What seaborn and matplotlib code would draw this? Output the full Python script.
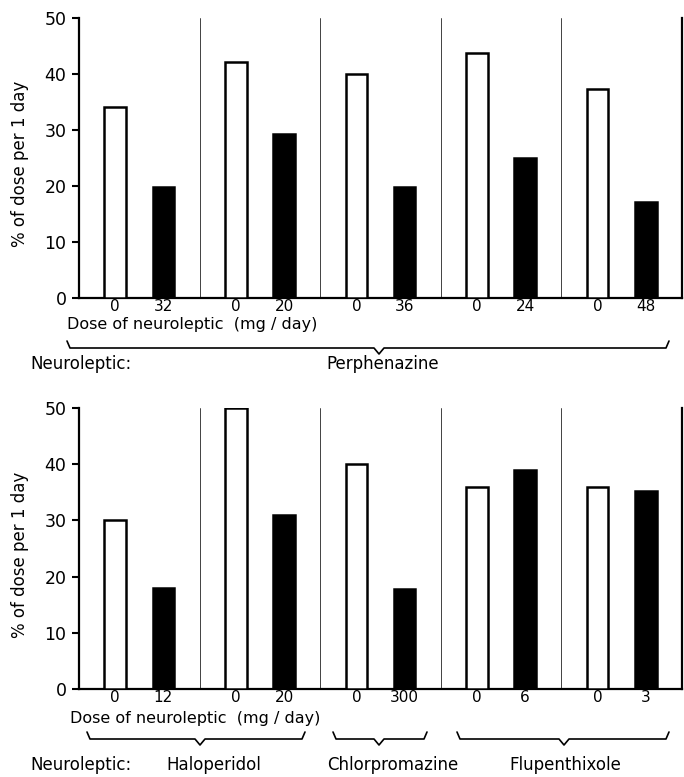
import pandas as pd
import matplotlib.pyplot as plt
import seaborn as sns
from matplotlib.lines import Line2D

# values (% of dose per 1 day)
top_doses = ['32', '20', '36', '24', '48']
top_control = [34.1, 42.2, 40.0, 43.8, 37.3]
top_treated = [19.8, 29.2, 19.8, 25.0, 17.1]

bottom_doses = ['12', '20', '300', '6', '3']
bottom_control = [30.0, 50.0, 40.0, 36.0, 36.0]
bottom_treated = [18.0, 31.0, 17.8, 39.0, 35.3]

top_drugs = ['Perphenazine']
bottom_drugs = ['Haloperidol', 'Chlorpromazine', 'Flupenthixole']

W, H = 684, 777
sns.set_style("ticks")
plt.rcParams['font.family'] = ['DejaVu Sans']
plt.rcParams.update({'text.color': 'black', 'xtick.color': 'black',
                     'ytick.color': 'black', 'axes.edgecolor': 'black'})

fig = plt.figure(figsize=(W / 100, H / 100), dpi=100)


def fx(x):
    return x / W


def fy(y):
    return 1 - y / H


def panel(top_px, bot_px, control, treated, doses):
    ax = fig.add_axes([fx(79), fy(bot_px), fx(682) - fx(79), (bot_px - top_px) / H])
    n = len(control)
    df = pd.DataFrame({
        'group': list(range(n)) * 2,
        'cond': ['control'] * n + ['treated'] * n,
        'value': control + treated,
    })
    sns.barplot(data=df, x='group', y='value', hue='cond',
                palette=['white', 'black'], edgecolor='black', linewidth=1.8,
                width=0.8, gap=0.55, legend=False, ax=ax, zorder=3)
    ax.set_xlim(-0.5, n - 0.5)
    ax.set_ylim(0, 50)
    ticks, labels = [], []
    for i, d in enumerate(doses):
        ticks += [i - 0.2, i + 0.2]
        labels += ['0', d]
    ax.set_xticks(ticks)
    ax.set_xticklabels(labels)
    ax.set_yticks(range(0, 51, 10))
    ax.tick_params(axis='x', length=0, pad=1, labelsize=11)
    ax.tick_params(axis='y', length=5, width=1.5, pad=4, labelsize=12.5)
    ax.set_xlabel('')
    ax.set_ylabel('')
    for s in ['left', 'bottom', 'right']:
        ax.spines[s].set_linewidth(1.6)
    ax.spines['top'].set_visible(False)
    for i in range(n - 1):
        ax.axvline(i + 0.5, color='#222222', lw=0.6, zorder=1)
    fig.text(fx(20), fy((top_px + bot_px) / 2 + 6), '% of dose per 1 day',
             rotation=90, ha='center', va='center', fontsize=12)
    return ax


def brace(x0, x1, xt, y):
    xs = [x0, x0 + 3, xt - 5, xt, xt + 5, x1 - 3, x1]
    ys = [y - 7, y, y, y + 6, y, y, y - 7]
    fig.add_artist(Line2D([fx(v) for v in xs], [fy(v) for v in ys],
                          color='black', lw=1.2))


panel(18, 298, top_control, top_treated, top_doses)
panel(408, 689, bottom_control, bottom_treated, bottom_doses)

# top panel annotations
fig.text(fx(67), fy(324), 'Dose of neuroleptic  (mg / day)', ha='left', va='center', fontsize=11.5)
brace(67, 669, 379, 348)
fig.text(fx(30), fy(364), 'Neuroleptic:', ha='left', va='center', fontsize=12)
fig.text(fx(383), fy(364), top_drugs[0], ha='center', va='center', fontsize=12)

# bottom panel annotations
fig.text(fx(70), fy(719), 'Dose of neuroleptic  (mg / day)', ha='left', va='center', fontsize=11.5)
brace(87, 305, 200, 739)
brace(333, 427, 379, 739)
brace(457, 669, 564, 739)
fig.text(fx(30), fy(765), 'Neuroleptic:', ha='left', va='center', fontsize=12)
for name, cx in zip(bottom_drugs, [214, 393, 565]):
    fig.text(fx(cx), fy(765), name, ha='center', va='center', fontsize=12)

fig.savefig('out.png', dpi=100)
